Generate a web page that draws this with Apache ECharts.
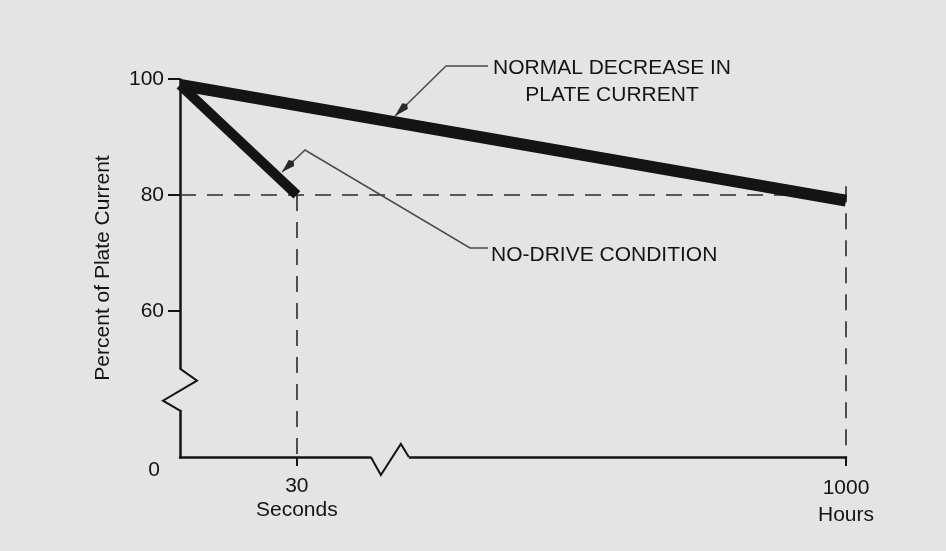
<!DOCTYPE html>
<html><head><meta charset="utf-8">
<script src="https://cdn.jsdelivr.net/npm/echarts@6/dist/echarts.min.js"></script>
<style>html,body{margin:0;padding:0;background:#e4e4e4}#c{width:946px;height:551px}</style>
</head><body><div id="c"></div>
<script>
// ---- data ----
const yTickValues = [60, 80, 100];
const yLabelValues = [0, 60, 80, 100];
const secondsTickValues = [30];
const hoursTickValues = [1000];
const secondsLabel = 'Seconds';
const hoursLabel = 'Hours';
const normalHours = [0, 1000];
const normalPercent = [99, 79];
const noDriveSeconds = [0, 30];
const noDrivePercent = [99, 80];
const refLevel = 80;
const yTitle = 'Percent of Plate Current';
const calloutNormal = ['NORMAL DECREASE IN', 'PLATE CURRENT'];
const calloutNoDrive = 'NO-DRIVE CONDITION';

// ---- style ----
const BG = '#e4e4e4';
const INK = '#141414';
const FONT = "'Liberation Sans', Arial, sans-serif";
const FS = 21;

const chart = echarts.init(document.getElementById('c'), null, {renderer: 'canvas'});

const normalData = normalHours.map((h, i) => [h, normalPercent[i]]);
const noDriveData = noDriveSeconds.map((s, i) => [s, noDrivePercent[i]]);
const lastH = normalHours[normalHours.length - 1];
const lastS = noDriveSeconds[noDriveSeconds.length - 1];

const dashStyle = {color: '#2a2a2a', width: 1.6, type: [16, 11]};

chart.setOption({
  backgroundColor: BG,
  animation: false,
  grid: {left: 180, right: 100, top: 79, bottom: 94, containLabel: false},
  xAxis: [
    { // hours
      type: 'value', min: 0, max: 1000, position: 'bottom',
      axisLine: {show: true, onZero: false, lineStyle: {color: INK, width: 2.5}},
      axisTick: {show: true, customValues: hoursTickValues, length: 9, lineStyle: {color: INK, width: 2}},
      axisLabel: {show: true, customValues: hoursTickValues, margin: 18,
        formatter: v => v + '\n' + hoursLabel,
        color: INK, fontFamily: FONT, fontSize: FS, lineHeight: 27},
      splitLine: {show: false}
    },
    { // seconds
      type: 'value', min: 0, max: 171, position: 'bottom', offset: 0,
      axisLine: {show: false, onZero: false},
      axisTick: {show: true, customValues: secondsTickValues, length: 9, lineStyle: {color: INK, width: 2}},
      axisLabel: {show: true, customValues: secondsTickValues, margin: 17,
        formatter: v => v + '\n' + secondsLabel,
        color: INK, fontFamily: FONT, fontSize: FS, lineHeight: 24},
      splitLine: {show: false}
    }
  ],
  yAxis: {
    type: 'value', min: 0, max: 100,
    breaks: [{start: 8, end: 50, gap: '11.1%'}],
    breakArea: {show: false},
    name: yTitle, nameLocation: 'middle', nameGap: 66, nameRotate: 90,
    nameTextStyle: {color: INK, fontFamily: FONT, fontSize: FS},
    axisLine: {show: true, onZero: false, lineStyle: {color: INK, width: 2.5}},
    axisTick: {show: true, customValues: yTickValues, length: 12, lineStyle: {color: INK, width: 2}},
    axisLabel: {show: true, customValues: yLabelValues, margin: 16,
      color: INK, fontFamily: FONT, fontSize: FS,
      formatter: v => v === 0 ? '{z|0}' : String(v),
      rich: {z: {color: INK, fontFamily: FONT, fontSize: FS, padding: [27, 4, 0, 0]}}},
    splitLine: {show: false}
  },
  series: [
    {
      name: 'Normal decrease', type: 'line', xAxisIndex: 0, yAxisIndex: 0,
      data: normalData, symbol: 'none', silent: true,
      lineStyle: {color: INK, width: 12, cap: 'butt'}, z: 5,
      markLine: {
        silent: true, symbol: 'none', label: {show: false},
        lineStyle: dashStyle, z: 2,
        data: [
          [{coord: [0, refLevel]}, {coord: [lastH, refLevel]}],
          [{coord: [lastH, refLevel + 1.5]}, {coord: [lastH, 0]}]
        ]
      }
    },
    {
      name: 'No-drive', type: 'line', xAxisIndex: 1, yAxisIndex: 0,
      data: noDriveData, symbol: 'none', silent: true,
      lineStyle: {color: INK, width: 10, cap: 'butt'}, z: 5,
      markLine: {
        silent: true, symbol: 'none', label: {show: false},
        lineStyle: dashStyle, z: 2,
        data: [
          [{coord: [lastS, refLevel]}, {coord: [lastS, 0]}]
        ]
      }
    }
  ]
});

// ---- decorations: axis break zigzags and callouts ----
const ax = chart.convertToPixel({xAxisIndex: 0}, 0);
const ay = chart.convertToPixel({yAxisIndex: 0}, 0);
const yTop = chart.convertToPixel({yAxisIndex: 0}, 50);
const yBot = chart.convertToPixel({yAxisIndex: 0}, 8);
const xz = chart.convertToPixel({xAxisIndex: 1}, 49);

function arrow(tip, from, len, half) {
  const dx = tip[0] - from[0], dy = tip[1] - from[1];
  const d = Math.hypot(dx, dy), ux = dx / d, uy = dy / d;
  const bx = tip[0] - ux * len, by = tip[1] - uy * len;
  return {type: 'polygon', z: 20, shape: {points: [tip, [bx - uy * half, by + ux * half], [bx - ux * 3, by - uy * 3], [bx + uy * half, by - ux * half]]},
    style: {fill: '#2a2a2a'}};
}

const normTip = [395, 116], normKnee = [446, 66], normEnd = [488, 66];
const ndTip = [282, 172], ndKnee = [305, 150], ndBend = [470, 248], ndEnd = [488, 248];

chart.setOption({
  graphic: [
    // y axis break
    {type: 'rect', z: 10, shape: {x: ax - 3, y: yTop + 1, width: 6, height: yBot - yTop - 2}, style: {fill: BG}},
    {type: 'polyline', z: 11, shape: {points: [[ax, yTop], [ax + 17, yTop + 12], [ax - 17, yTop + 32], [ax, yBot]]},
      style: {stroke: INK, lineWidth: 2, fill: null}},
    // x axis break
    {type: 'rect', z: 10, shape: {x: xz, y: ay - 3, width: 38, height: 6}, style: {fill: BG}},
    {type: 'polyline', z: 11, shape: {points: [[xz, ay], [xz + 10, ay + 18], [xz + 30, ay - 13], [xz + 38, ay]]},
      style: {stroke: INK, lineWidth: 2, fill: null}},
    // normal callout
    {type: 'polyline', z: 20, shape: {points: [normEnd, normKnee, normTip]}, style: {stroke: '#4a4a4a', lineWidth: 1.5, fill: null}},
    arrow(normTip, normKnee, 14, 4),
    {type: 'text', z: 20, style: {text: calloutNormal[0], x: 612, y: 68, textAlign: 'center', textVerticalAlign: 'middle',
      font: FS + 'px ' + FONT, fill: INK}},
    {type: 'text', z: 20, style: {text: calloutNormal[1], x: 612, y: 95, textAlign: 'center', textVerticalAlign: 'middle',
      font: FS + 'px ' + FONT, fill: INK}},
    // no-drive callout
    {type: 'polyline', z: 20, shape: {points: [ndEnd, ndBend, ndKnee, ndTip]}, style: {stroke: '#4a4a4a', lineWidth: 1.5, fill: null}},
    arrow(ndTip, ndKnee, 13, 4),
    {type: 'text', z: 20, style: {text: calloutNoDrive, x: 491, y: 255, textAlign: 'left', textVerticalAlign: 'middle',
      font: FS + 'px ' + FONT, fill: INK}}
  ]
});
</script>
</body></html>
